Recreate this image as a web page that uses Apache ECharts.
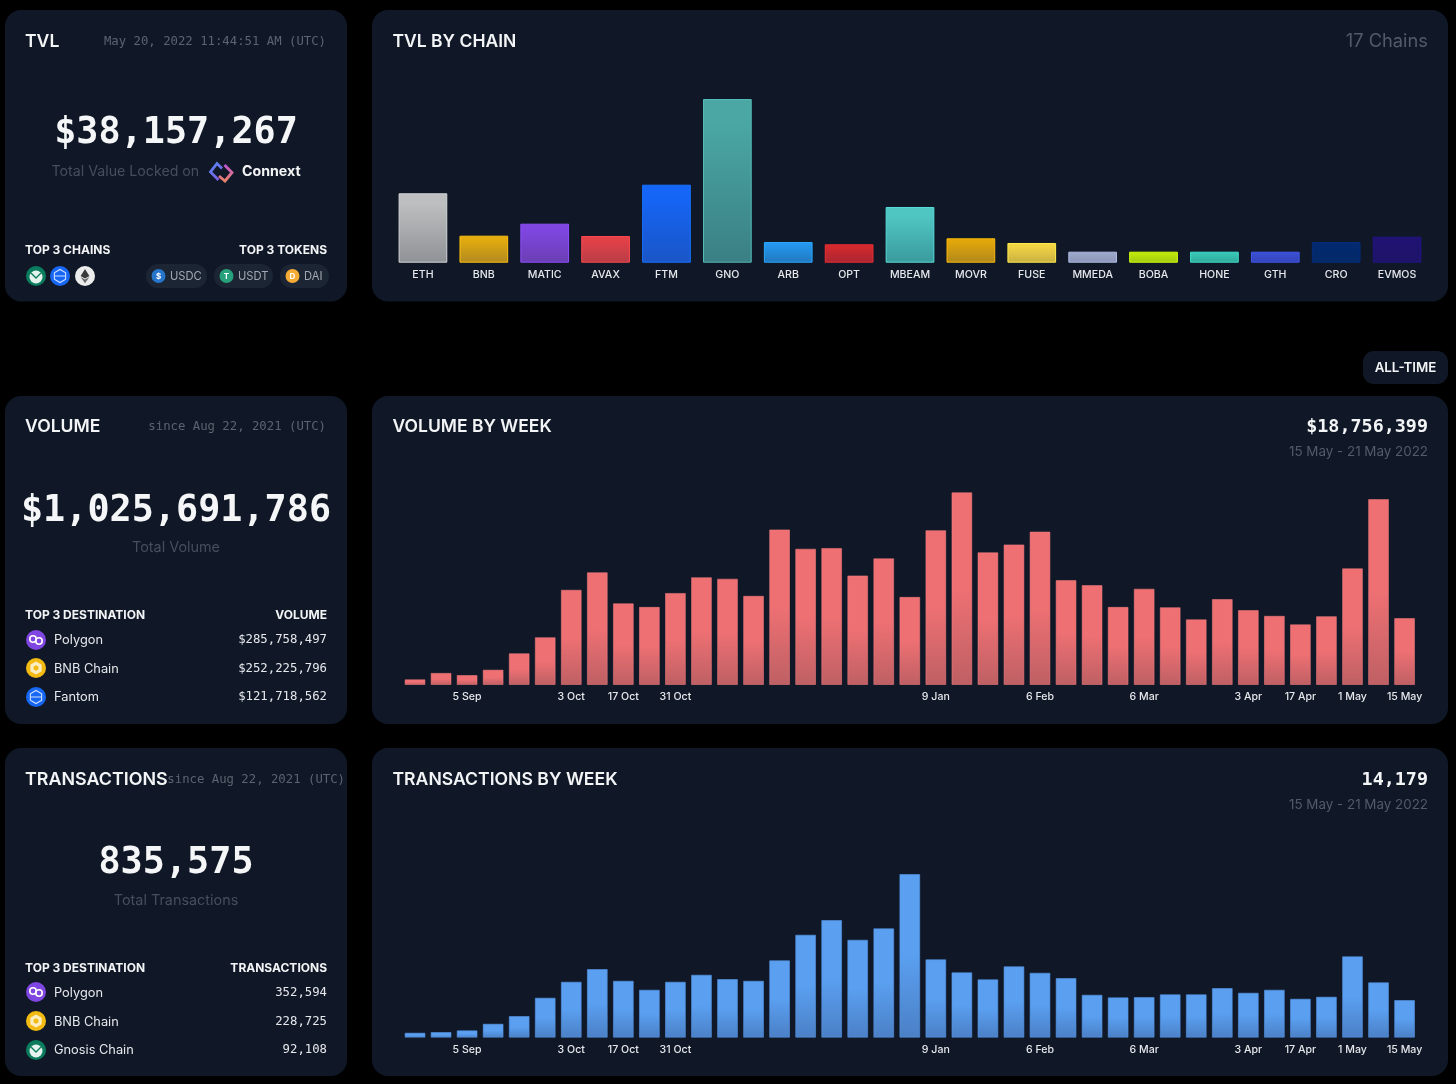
<!DOCTYPE html>
<html>
<head>
<meta charset="utf-8">
<title>Connext stats</title>
<script src="https://cdn.jsdelivr.net/npm/echarts@6/dist/echarts.min.js"></script>
<style>
  html, body { margin: 0; padding: 0; background: #000; }
  #chart { width: 1456px; height: 1084px; }
</style>
</head>
<body>
<div id="chart"></div>
<script>
// data
var chains = ['ETH', 'BNB', 'MATIC', 'AVAX', 'FTM', 'GNO', 'ARB', 'OPT', 'MBEAM', 'MOVR', 'FUSE', 'MMEDA', 'BOBA', 'HONE', 'GTH', 'CRO', 'EVMOS'];
var tvlValues = [4181000, 1627000, 2350000, 1609000, 4700000, 9863000, 1247000, 1109000, 3356000, 1470000, 1187000, 663000, 663000, 663000, 663000, 1247000, 1567000];
var chainTop = ['#bdbebf', '#e2ab0e', '#7f46e2', '#e34148', '#1565f6', '#4aa7a4', '#2597ee', '#d3292d', '#50c6c2', '#e1a60b', '#f3d444', '#9ca7ca', '#bde70b', '#39c6b6', '#3a4fd2', '#03296f', '#1f1273'];
var chainBottom = ['#8f9296', '#b18a20', '#6a3fb2', '#b83d46', '#1a55c6', '#3a7f83', '#2177bd', '#a92631', '#3a9a9d', '#b0881c', '#c8b042', '#8a95b8', '#a2ca10', '#30a899', '#3443b8', '#042a69', '#1d1467'];

var weeks = ['22 Aug', '29 Aug', '5 Sep', '12 Sep', '19 Sep', '26 Sep', '3 Oct', '10 Oct', '17 Oct', '24 Oct', '31 Oct', '7 Nov', '14 Nov', '21 Nov', '28 Nov', '5 Dec', '12 Dec', '19 Dec', '26 Dec', '2 Jan', '9 Jan', '16 Jan', '23 Jan', '30 Jan', '6 Feb', '13 Feb', '20 Feb', '27 Feb', '6 Mar', '13 Mar', '20 Mar', '27 Mar', '3 Apr', '10 Apr', '17 Apr', '24 Apr', '1 May', '8 May', '15 May'];
var weekTicks = ['5 Sep', '3 Oct', '17 Oct', '31 Oct', '9 Jan', '6 Feb', '6 Mar', '3 Apr', '17 Apr', '1 May', '15 May'];
var volumeValues = [1.6, 3.4, 2.8, 4.3, 8.9, 13.4, 26.7, 31.6, 22.9, 21.9, 25.8, 30.2, 29.8, 25.0, 43.6, 38.2, 38.4, 30.7, 35.5, 24.7, 43.4, 54.0, 37.2, 39.4, 43.0, 29.4, 28.0, 21.9, 27.0, 21.8, 18.4, 24.1, 21.0, 19.4, 17.0, 19.3, 32.7, 52.1, 18.76];
var txValues = [1880, 2140, 2780, 5260, 8160, 15040, 21060, 25830, 21430, 18050, 21060, 23690, 22070, 21430, 29100, 38730, 44260, 36850, 41130, 61550, 29480, 24590, 21960, 26850, 24440, 22450, 16170, 15190, 15300, 16320, 16320, 18690, 16920, 18050, 14660, 15420, 30610, 20830, 14179];

var sans = 'Inter';
var mono = '"DejaVu Sans Mono"';
var cardColor = '#101827';

function txt(x, y, text, size, color, opt) {
  opt = opt || {};
  return {
    type: 'text', x: x, y: y, z: 20,
    style: {
      text: text,
      fill: color,
      fontSize: size,
      fontFamily: opt.font || sans,
      fontWeight: opt.weight || 400,
      align: opt.align || 'left',
      verticalAlign: 'middle'
    }
  };
}
function card(x, y, w, h, r) {
  return { type: 'rect', z: 0, shape: { x: x, y: y, width: w, height: h, r: r || 16 }, style: { fill: cardColor } };
}
function dot(cx, cy, r, color) {
  return { type: 'circle', z: 15, shape: { cx: cx, cy: cy, r: r }, style: { fill: color } };
}
function hexagon(cx, cy, r, style) {
  var pts = [];
  for (var i = 0; i < 6; i++) {
    var a = Math.PI / 3 * i + Math.PI / 6;
    pts.push([cx + r * Math.cos(a), cy + r * Math.sin(a)]);
  }
  return { type: 'polygon', z: 16, shape: { points: pts }, style: style };
}

// chain logos, simplified
function polygonIcon(cx, cy) {
  return [dot(cx, cy, 10, '#7f46e2'),
    { type: 'ring', z: 16, shape: { cx: cx - 3, cy: cy - 1, r: 4, r0: 2.4 }, style: { fill: '#fff' } },
    { type: 'ring', z: 16, shape: { cx: cx + 3, cy: cy + 1, r: 4, r0: 2.4 }, style: { fill: '#fff' } }];
}
function bnbIcon(cx, cy) {
  return [dot(cx, cy, 10, '#f3bb12'),
    hexagon(cx, cy, 6.5, { fill: 'rgba(255,255,255,0.75)' }),
    hexagon(cx, cy, 2.8, { fill: '#f3bb12' })];
}
function fantomIcon(cx, cy) {
  return [dot(cx, cy, 10, '#1767f2'),
    hexagon(cx, cy, 6.5, { fill: 'none', stroke: '#cfe0ff', lineWidth: 1.1 }),
    { type: 'line', z: 16, shape: { x1: cx - 5, y1: cy, x2: cx + 5, y2: cy }, style: { stroke: '#cfe0ff', lineWidth: 1 } }];
}
function gnosisIcon(cx, cy) {
  return [dot(cx, cy, 10, '#0b7d5e'),
    dot(cx, cy + 1, 6.5, '#e6f2ee'),
    { type: 'polyline', z: 16, shape: { points: [[cx - 5, cy - 3], [cx, cy + 2], [cx + 5, cy - 3]] }, style: { stroke: '#0b7d5e', lineWidth: 1.4, fill: 'none' } }];
}
function ethIcon(cx, cy) {
  return [dot(cx, cy, 10, '#ececec'),
    { type: 'polygon', z: 16, shape: { points: [[cx, cy - 7], [cx + 4.4, cy], [cx, cy + 2.5], [cx - 4.4, cy]] }, style: { fill: '#3a3a3a' } },
    { type: 'polygon', z: 16, shape: { points: [[cx, cy + 3.6], [cx + 4.4, cy + 1.1], [cx, cy + 7.2], [cx - 4.4, cy + 1.1]] }, style: { fill: '#6a6a6a' } }];
}
function pill(x, w, label, color, glyph) {
  var cy = 276;
  return [
    { type: 'rect', z: 10, shape: { x: x, y: 264, width: w, height: 24, r: 12 }, style: { fill: '#1c2534' } },
    dot(x + 12.5, cy, 7, color),
    txt(x + 12.5, cy + 0.5, glyph, 8, '#fff', { align: 'center', weight: 700 }),
    txt(x + 24, cy + 0.5, label, 11.2, '#a3a9b3')
  ];
}
function connextLogo() {
  var left = new echarts.graphic.LinearGradient(0, 0, 1, 1, [{ offset: 0, color: '#4f8ef7' }, { offset: 1, color: '#8a4fe0' }]);
  var right = new echarts.graphic.LinearGradient(0, 0, 0, 1, [{ offset: 0, color: '#b84fe0' }, { offset: 1, color: '#f28a5a' }]);
  return [
    { type: 'polyline', z: 16, shape: { points: [[222, 168.5], [217, 163.5], [210.5, 172], [218.5, 180]] }, style: { stroke: left, lineWidth: 2.8, fill: 'none' } },
    { type: 'polyline', z: 16, shape: { points: [[219, 176], [225, 181], [232, 172.5], [224.5, 165]] }, style: { stroke: right, lineWidth: 2.8, fill: 'none' } }
  ];
}

function gradient(top, bottom, from) {
  return new echarts.graphic.LinearGradient(0, 0, 0, 1, [
    { offset: 0, color: top },
    { offset: from, color: top },
    { offset: 1, color: bottom }
  ]);
}
function axisFor(idx, data, interval, margin) {
  return {
    type: 'category', gridIndex: idx, data: data,
    axisLine: { show: false }, axisTick: { show: false },
    axisLabel: { color: '#e6e8ec', fontSize: 10.6, fontFamily: sans, fontWeight: 500, margin: margin, interval: interval, hideOverlap: false }
  };
}
function valueAxis(idx) {
  return { type: 'value', gridIndex: idx, min: 0, max: 'dataMax', show: false, splitLine: { show: false } };
}
function weekTick(i, name) {
  return weekTicks.indexOf(name) >= 0;
}

var titleStyle = { weight: 600 };
var dimText = '#454e5c';
var graphics = [
  card(5, 10, 342, 291.5), card(372, 10, 1076, 291.5),
  card(5, 396, 342, 328), card(372, 396, 1076, 328),
  card(5, 748, 342, 328), card(372, 748, 1076, 328),
  card(1363, 351, 85, 33, 11),
  txt(1405.5, 367.5, 'ALL-TIME', 13.3, '#f3f4f6', { align: 'center', weight: 600 }),

  // tvl card
  txt(25, 41.5, 'TVL', 17.6, '#f3f4f6', titleStyle),
  txt(326, 41.5, 'May 20, 2022 11:44:51 AM (UTC)', 12.3, '#5c6370', { font: mono, align: 'right' }),
  txt(176, 133, '$38,157,267', 36.8, '#f5f6f7', { font: mono, align: 'center', weight: 700 }),
  txt(51.5, 172, 'Total Value Locked on', 14.2, dimText),
  txt(242, 172, 'Connext', 14.2, '#f3f4f6', { weight: 700 }),
  txt(25, 250, 'TOP 3 CHAINS', 12, '#f3f4f6', { weight: 700 }),
  txt(327, 250, 'TOP 3 TOKENS', 12, '#f3f4f6', { weight: 700, align: 'right' }),

  // volume card
  txt(25, 427, 'VOLUME', 17.6, '#f3f4f6', titleStyle),
  txt(326, 427, 'since Aug 22, 2021 (UTC)', 12.3, '#5c6370', { font: mono, align: 'right' }),
  txt(176, 511.5, '$1,025,691,786', 36.8, '#f5f6f7', { font: mono, align: 'center', weight: 700 }),
  txt(176, 548, 'Total Volume', 14.4, dimText, { align: 'center' }),
  txt(25, 615, 'TOP 3 DESTINATION', 12, '#f3f4f6', { weight: 700 }),
  txt(327, 615, 'VOLUME', 12, '#f3f4f6', { weight: 700, align: 'right' }),
  txt(54, 640.5, 'Polygon', 12.8, '#e6e8ec'),
  txt(54, 669.5, 'BNB Chain', 12.8, '#e6e8ec'),
  txt(54, 697.5, 'Fantom', 12.8, '#e6e8ec'),
  txt(327, 640, '$285,758,497', 12.3, '#e6e8ec', { font: mono, align: 'right' }),
  txt(327, 669, '$252,225,796', 12.3, '#e6e8ec', { font: mono, align: 'right' }),
  txt(327, 697, '$121,718,562', 12.3, '#e6e8ec', { font: mono, align: 'right' }),

  // transactions card
  txt(25, 780, 'TRANSACTIONS', 17.9, '#f3f4f6', titleStyle),
  txt(345, 780, 'since Aug 22, 2021 (UTC)', 12.3, '#5c6370', { font: mono, align: 'right' }),
  txt(176, 863.5, '835,575', 36.8, '#f5f6f7', { font: mono, align: 'center', weight: 700 }),
  txt(176, 901, 'Total Transactions', 14.4, dimText, { align: 'center' }),
  txt(25, 968, 'TOP 3 DESTINATION', 12, '#f3f4f6', { weight: 700 }),
  txt(327, 968, 'TRANSACTIONS', 12, '#f3f4f6', { weight: 700, align: 'right' }),
  txt(54, 993, 'Polygon', 12.8, '#e6e8ec'),
  txt(54, 1022, 'BNB Chain', 12.8, '#e6e8ec'),
  txt(54, 1050.5, 'Gnosis Chain', 12.8, '#e6e8ec'),
  txt(327, 993, '352,594', 12.3, '#e6e8ec', { font: mono, align: 'right' }),
  txt(327, 1021.5, '228,725', 12.3, '#e6e8ec', { font: mono, align: 'right' }),
  txt(327, 1050, '92,108', 12.3, '#e6e8ec', { font: mono, align: 'right' }),

  // chart headers
  txt(392.5, 41.5, 'TVL BY CHAIN', 17.5, '#f3f4f6', titleStyle),
  txt(1428, 41.5, '17 Chains', 18.3, '#525b69', { align: 'right' }),
  txt(392.5, 427, 'VOLUME BY WEEK', 17.5, '#f3f4f6', titleStyle),
  txt(1428, 427, '$18,756,399', 18.4, '#f3f4f6', { font: mono, align: 'right', weight: 700 }),
  txt(1428, 451.5, '15 May - 21 May 2022', 13.4, '#525b69', { align: 'right' }),
  txt(392.5, 780, 'TRANSACTIONS BY WEEK', 17.6, '#f3f4f6', titleStyle),
  txt(1428, 780, '14,179', 18.4, '#f3f4f6', { font: mono, align: 'right', weight: 700 }),
  txt(1428, 804.5, '15 May - 21 May 2022', 13.4, '#525b69', { align: 'right' })
].concat(
  connextLogo(),
  gnosisIcon(36, 276), fantomIcon(60, 276), ethIcon(85, 276),
  pill(146, 61, 'USDC', '#2775ca', '$'), pill(214, 59, 'USDT', '#26a17b', 'T'), pill(280, 49, 'DAI', '#f5ac37', 'D'),
  polygonIcon(36, 640), bnbIcon(36, 668), fantomIcon(36, 697),
  polygonIcon(36, 992), bnbIcon(36, 1021), gnosisIcon(36, 1050)
);

var chart = echarts.init(document.getElementById('chart'), null, { renderer: 'canvas' });
chart.setOption({
  backgroundColor: '#000',
  animation: false,
  graphic: { elements: graphics },
  grid: [
    { left: 392.5, width: 1035, top: 99, height: 163.7 },
    { left: 402, width: 1015.6, top: 492.3, height: 192.7 },
    { left: 402, width: 1015.6, top: 874, height: 163.7 }
  ],
  xAxis: [axisFor(0, chains, 0, 7), axisFor(1, weeks, weekTick, 6.5), axisFor(2, weeks, weekTick, 6.5)],
  yAxis: [valueAxis(0), valueAxis(1), valueAxis(2)],
  series: [
    {
      name: 'TVL', type: 'bar', xAxisIndex: 0, yAxisIndex: 0, barCategoryGap: '20%',
      data: tvlValues.map(function (v, i) {
        return {
          value: v,
          itemStyle: { color: gradient(chainTop[i], chainBottom[i], 0.15), borderColor: echarts.color.lift(chainTop[i], -0.12), borderWidth: 1 }
        };
      })
    },
    {
      name: 'Volume', type: 'bar', xAxisIndex: 1, yAxisIndex: 1, barCategoryGap: '20%', data: volumeValues,
      itemStyle: { color: gradient('#ee7073', '#be6064', 0.5), borderColor: 'rgba(244,124,126,0.55)', borderWidth: 1 }
    },
    {
      name: 'Transactions', type: 'bar', xAxisIndex: 2, yAxisIndex: 2, barCategoryGap: '20%', data: txValues,
      itemStyle: { color: gradient('#5a9ff0', '#4b80c6', 0.5), borderColor: 'rgba(86,150,230,0.6)', borderWidth: 1 }
    }
  ]
});
</script>
</body>
</html>
